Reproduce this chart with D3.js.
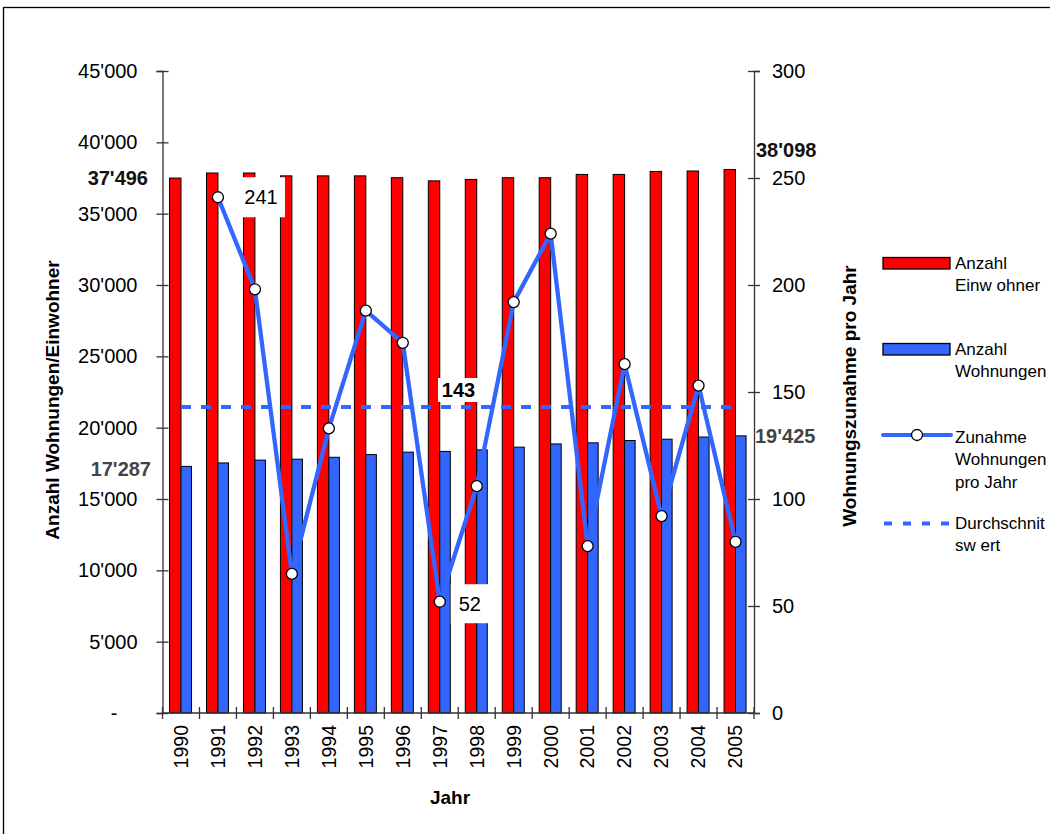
<!DOCTYPE html>
<html>
<head>
<meta charset="utf-8">
<script src="https://cdn.jsdelivr.net/npm/d3@7"></script>
<style>
  html, body { margin: 0; padding: 0; background: #fff; }
  svg { display: block; font-family: "Liberation Sans", Arial, sans-serif; }
</style>
</head>
<body>
<svg id="chart" width="1050" height="834"></svg>
<script>
// Jahre
const years = ["1990","1991","1992","1993","1994","1995","1996","1997","1998","1999","2000","2001","2002","2003","2004","2005"];
// Anzahl Einwohner
const einwohner = [37496, 37850, 37850, 37650, 37650, 37650, 37520, 37300, 37400, 37520, 37520, 37750, 37750, 37960, 37990, 38098];
// Anzahl Wohnungen
const wohnungen = [17287, 17528, 17726, 17791, 17924, 18112, 18285, 18337, 18443, 18635, 18859, 18937, 19100, 19192, 19345, 19425];
// Zunahme Wohnungen pro Jahr (1990 ohne Wert)
const zunahme = [null, 241, 198, 65, 133, 188, 173, 52, 106, 192, 224, 78, 163, 92, 153, 80];
// Durchschnittswert der Zunahme
const durchschnitt = 143;
// Achsenbeschriftungen
const leftTicks = [0, 5000, 10000, 15000, 20000, 25000, 30000, 35000, 40000, 45000];
const rightTicks = [0, 50, 100, 150, 200, 250, 300];

const RED = "#FF0000", BLUE = "#3366FF";
const svg = d3.select("#chart");

// outer frame
svg.append("rect").attr("x", 3.5).attr("y", 7.5).attr("width", 1100).attr("height", 900)
  .attr("fill", "none").attr("stroke", "#000").attr("stroke-width", 1.3);

const plotL = 162.5, plotR = 754, plotT = 71, plotB = 713;
const x = d3.scaleBand().domain(years).range([plotL, plotR]).padding(0);
const yL = d3.scaleLinear().domain([0, 45000]).range([plotB, plotT]);
const yR = d3.scaleLinear().domain([0, 300]).range([plotB, plotT]);
const bw = x.bandwidth();
const cx = d => x(d) + bw / 2;
const fmt = v => v === 0 ? "-" : d3.format(",")(v).replace(/,/g, "'");

// bars
const g = svg.append("g");
const redW = bw * 0.31, blueW = bw * 0.285;
g.selectAll("rect.ew").data(years).join("rect")
  .attr("x", (d) => cx(d) - redW).attr("width", redW)
  .attr("y", (d, i) => yL(einwohner[i])).attr("height", (d, i) => plotB - yL(einwohner[i]))
  .attr("fill", RED).attr("stroke", "#000").attr("stroke-width", 1);
g.selectAll("rect.wo").data(years).join("rect")
  .attr("x", (d) => cx(d)).attr("width", blueW)
  .attr("y", (d, i) => yL(wohnungen[i])).attr("height", (d, i) => plotB - yL(wohnungen[i]))
  .attr("fill", BLUE).attr("stroke", "#000").attr("stroke-width", 1);

// average line
svg.append("line")
  .attr("x1", cx(years[0])).attr("x2", cx(years[years.length - 1]))
  .attr("y1", yR(durchschnitt)).attr("y2", yR(durchschnitt))
  .attr("stroke", BLUE).attr("stroke-width", 4).attr("stroke-dasharray", "10,10");

// increase line
const pts = years.map((d, i) => ({ d, v: zunahme[i] })).filter(p => p.v != null);
svg.append("path").datum(pts)
  .attr("d", d3.line().x(p => cx(p.d)).y(p => yR(p.v)))
  .attr("fill", "none").attr("stroke", BLUE).attr("stroke-width", 4.3).attr("stroke-linejoin", "round");
svg.selectAll("circle.pt").data(pts).join("circle")
  .attr("cx", p => cx(p.d)).attr("cy", p => yR(p.v)).attr("r", 5.5)
  .attr("fill", "#fff").attr("stroke", "#000").attr("stroke-width", 1.3);

// axes
const axisColor = "#333";
const la = svg.append("g").attr("transform", `translate(${plotL},0)`)
  .call(d3.axisLeft(yL).tickValues(leftTicks).tickFormat(fmt).tickSize(6).tickPadding(19));
la.select(".domain").attr("stroke", axisColor).attr("stroke-width", 1.3);
la.selectAll(".tick line").attr("x1", -6).attr("x2", 6).attr("stroke", axisColor).attr("stroke-width", 1.3);
la.selectAll(".tick text").attr("font-size", 20).attr("fill", "#000")
  .attr("font-family", "Liberation Sans, Arial, sans-serif")
  .attr("dx", d => d === 0 ? -20 : 0);

const ra = svg.append("g").attr("transform", `translate(${plotR},0)`)
  .call(d3.axisRight(yR).tickValues(rightTicks).tickSize(6).tickPadding(12));
ra.select(".domain").attr("stroke", axisColor).attr("stroke-width", 1.3);
ra.selectAll(".tick line").attr("x1", -6).attr("x2", 6).attr("stroke", axisColor).attr("stroke-width", 1.3);
ra.selectAll(".tick text").attr("font-size", 20).attr("fill", "#000")
  .attr("font-family", "Liberation Sans, Arial, sans-serif");

// x axis: baseline, boundary ticks and rotated year labels
svg.append("line").attr("x1", plotL).attr("x2", plotR).attr("y1", plotB).attr("y2", plotB)
  .attr("stroke", axisColor).attr("stroke-width", 1.3);
const bounds = years.map(d => x(d)).concat([plotR]);
svg.selectAll("line.xt").data(bounds).join("line")
  .attr("x1", d => d).attr("x2", d => d).attr("y1", plotB - 6).attr("y2", plotB + 6)
  .attr("stroke", axisColor).attr("stroke-width", 1.3);
svg.selectAll("text.yr").data(years).join("text")
  .attr("transform", d => `translate(${cx(d)},${plotB + 12}) rotate(-90)`)
  .attr("text-anchor", "end").attr("dy", "0.35em")
  .attr("font-size", 19.5).text(d => d);

// axis titles
svg.append("text").attr("transform", `translate(52,400) rotate(-90)`)
  .attr("text-anchor", "middle").attr("dy", "0.35em")
  .attr("font-size", 19).attr("font-weight", "bold").text("Anzahl Wohnungen/Einwohner");
svg.append("text").attr("transform", `translate(849,396) rotate(-90)`)
  .attr("text-anchor", "middle").attr("dy", "0.35em")
  .attr("font-size", 19).attr("font-weight", "bold").text("Wohnungszunahme pro Jahr");
svg.append("text").attr("x", 450).attr("y", 797).attr("dy", "0.35em")
  .attr("text-anchor", "middle").attr("font-size", 19).attr("font-weight", "bold").text("Jahr");

// value labels for first and last year
const n = years.length - 1;
svg.append("text").attr("x", 148).attr("y", yL(einwohner[0])).attr("dy", "0.35em")
  .attr("text-anchor", "end").attr("font-size", 20).attr("font-weight", "bold").attr("fill", "#111")
  .text(fmt(einwohner[0]));
svg.append("text").attr("x", 151).attr("y", yL(wohnungen[0]) + 3).attr("dy", "0.35em")
  .attr("text-anchor", "end").attr("font-size", 20).attr("font-weight", "bold").attr("fill", "#444")
  .text(fmt(wohnungen[0]));
svg.append("text").attr("x", 756).attr("y", yL(einwohner[n]) - 19).attr("dy", "0.35em")
  .attr("text-anchor", "start").attr("font-size", 20).attr("font-weight", "bold").attr("fill", "#111")
  .text(fmt(einwohner[n]));
svg.append("text").attr("x", 755).attr("y", yL(wohnungen[n])).attr("dy", "0.35em")
  .attr("text-anchor", "start").attr("font-size", 20).attr("font-weight", "bold").attr("fill", "#444")
  .text(fmt(wohnungen[n]));

// boxed labels: max, min and average
function boxLabel(px, py, w, h, txt, bold) {
  svg.append("rect").attr("x", px).attr("y", py - h / 2).attr("width", w).attr("height", h).attr("fill", "#fff");
  svg.append("text").attr("x", px + w / 2).attr("y", py).attr("dy", "0.35em")
    .attr("text-anchor", "middle").attr("font-size", 20)
    .attr("font-weight", bold ? "bold" : "normal").text(txt);
}
const iMax = zunahme.indexOf(d3.max(zunahme));
const iMin = zunahme.indexOf(d3.min(zunahme.filter(v => v != null)));
boxLabel(cx(years[iMax]) + 19, yR(zunahme[iMax]), 48, 40, String(zunahme[iMax]), false);
boxLabel(cx(years[iMin]) + 11, yR(zunahme[iMin]) + 2, 38, 39, String(zunahme[iMin]), false);
boxLabel(438, yR(durchschnitt) - 17, 41, 24, String(durchschnitt), true);

// legend
const lg = svg.append("g");
const lx = 883, lw = 67, tx = 955;
function legendText(y0, lines) {
  lines.forEach((t, k) => lg.append("text").attr("x", tx).attr("y", y0 + k * 22.3).attr("dy", "0.35em")
    .attr("font-size", 17).text(t));
}
lg.append("rect").attr("x", lx).attr("y", 257.5).attr("width", lw).attr("height", 11.5)
  .attr("fill", RED).attr("stroke", "#000").attr("stroke-width", 1.3);
legendText(263, ["Anzahl", "Einw ohner"]);
lg.append("rect").attr("x", lx).attr("y", 343.5).attr("width", lw).attr("height", 11.5)
  .attr("fill", BLUE).attr("stroke", "#000").attr("stroke-width", 1.3);
legendText(349, ["Anzahl", "Wohnungen"]);
lg.append("line").attr("x1", lx).attr("x2", lx + lw + 1).attr("y1", 435).attr("y2", 435)
  .attr("stroke", BLUE).attr("stroke-width", 4).attr("stroke-linecap", "round");
lg.append("circle").attr("cx", 917).attr("cy", 435).attr("r", 5.5)
  .attr("fill", "#fff").attr("stroke", "#000").attr("stroke-width", 1.3);
legendText(437, ["Zunahme", "Wohnungen", "pro Jahr"]);
lg.append("line").attr("x1", lx + 1).attr("x2", lx + lw).attr("y1", 523.5).attr("y2", 523.5)
  .attr("stroke", BLUE).attr("stroke-width", 4).attr("stroke-dasharray", "8,11");
legendText(523, ["Durchschnit", "sw ert"]);
</script>
</body>
</html>
